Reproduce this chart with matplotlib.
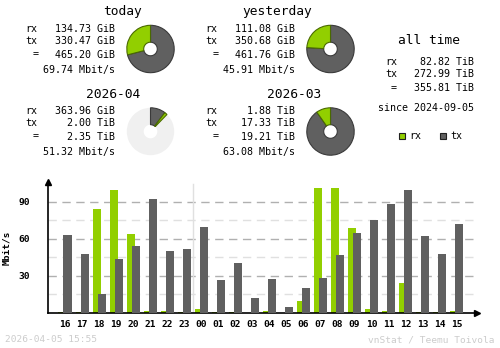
import numpy as np
import matplotlib
matplotlib.use("Agg")
import matplotlib.pyplot as plt
from matplotlib.patches import Wedge, Circle, Rectangle

# hourly traffic, Mbit/s
hours = ["16", "17", "18", "19", "20", "21", "22", "23", "00", "01", "02", "03",
         "04", "05", "06", "07", "08", "09", "10", "11", "12", "13", "14", "15"]
rx_rate = [1, 1, 84, 100, 64, 1.5, 1.5, 1, 3.5, 1, 1, 0,
           1.5, 0, 10, 101, 101, 69, 3.5, 2, 24.5, 1, 1, 1.5]
tx_rate = [63, 48, 15.7, 44, 54.5, 92.7, 50.5, 52, 70, 27, 40.8, 12.5,
           27.8, 5, 20.5, 28.6, 47.3, 65, 75, 88.7, 100, 62.7, 48, 72.4]

# summary boxes: title, rx, tx, total, rate, rx share, filled part
box_titles = ["today", "yesterday", "2026-04", "2026-03"]
box_rx = ["134.73 GiB", "111.08 GiB", "363.96 GiB", "1.88 TiB"]
box_tx = ["330.47 GiB", "350.68 GiB", "2.00 TiB", "17.33 TiB"]
box_tot = ["465.20 GiB", "461.76 GiB", "2.35 TiB", "19.21 TiB"]
box_rate = ["69.74 Mbit/s", "45.91 Mbit/s", "51.32 Mbit/s", "63.08 Mbit/s"]
box_rx_num = [134.73, 111.08, 363.96 / 1024, 1.88]
box_tot_num = [465.20, 461.76, 2.35, 19.21]
box_fill = [1.0, 1.0, 2.35 / 19.21, 1.0]

alltime = ["82.82 TiB", "272.99 TiB", "355.81 TiB"]
since = "since 2024-09-05"

RX = "#92cf00"
TX = "#606060"
MONO = "DejaVu Sans Mono"

fig = plt.figure(figsize=(5, 3.48), dpi=100)
bg = fig.add_axes([0, 0, 1, 1])
bg.set_xlim(0, 500)
bg.set_ylim(348, 0)
bg.axis("off")

# positions of the four boxes (pixels)
title_x = [122, 277, 113, 294]
val_right = [115, 295, 115, 295]
lab_x = [25, 205, 25, 205]
pie_c = [(150.5, 49), (330.5, 49), (150.5, 131.5), (330.5, 131.5)]
row0 = [12, 12, 94, 94]

for i in range(4):
    y0 = row0[i]
    bg.text(title_x[i], y0, box_titles[i], ha="center", va="center",
            family=MONO, fontsize=9.3)
    ys = [y0 + 17, y0 + 29.5, y0 + 42.5, y0 + 57.5]
    bg.text(lab_x[i], ys[0], "rx", va="center", family=MONO, fontsize=7.2)
    bg.text(lab_x[i], ys[1], "tx", va="center", family=MONO, fontsize=7.2)
    bg.text(lab_x[i] + 8, ys[2], "=", va="center", family=MONO, fontsize=7.2)
    for y, s in zip(ys, [box_rx[i], box_tx[i], box_tot[i], box_rate[i]]):
        bg.text(val_right[i], y, s, ha="right", va="center",
                family=MONO, fontsize=7.2)

    cx, cy = pie_c[i]
    r, rin = 23.7, 6.8
    f = box_fill[i]
    frx = box_rx_num[i] / box_tot_num[i]
    if f < 1:
        bg.add_patch(Wedge((cx, cy), r, 0, 360, width=r - rin,
                           facecolor="#f0f0f0", edgecolor="none"))
    a_tx = 360 * f * (1 - frx)
    a_all = 360 * f
    bg.add_patch(Wedge((cx, cy), r, 270, 270 + a_tx, width=r - rin,
                       facecolor=TX, edgecolor="#3a3a3a", lw=0.8))
    bg.add_patch(Wedge((cx, cy), r, 270 + a_tx, 270 + a_all, width=r - rin,
                       facecolor=RX, edgecolor="#4a6a00", lw=0.8))

# all time block
bg.text(429, 40, "all time", ha="center", va="center", family=MONO, fontsize=9.3)
for y, lab, v in zip([62, 74, 88], ["rx", "tx", " ="], alltime):
    bg.text(385, y, lab, va="center", family=MONO, fontsize=7.2)
    bg.text(474, y, v, ha="right", va="center", family=MONO, fontsize=7.2)
bg.text(474, 108, since, ha="right", va="center", family=MONO, fontsize=7.2)

bg.add_patch(Rectangle((398.5, 133), 6, 6, facecolor=RX, edgecolor="#202020", lw=0.8))
bg.text(409, 136, "rx", va="center", family=MONO, fontsize=7.2)
bg.add_patch(Rectangle((440, 133), 6, 6, facecolor=TX, edgecolor="#202020", lw=0.8))
bg.text(450, 136, "tx", va="center", family=MONO, fontsize=7.2)

bg.text(5, 340, "2026-04-05 15:55", va="center", family=MONO, fontsize=6.8,
        color="#cccccc")
bg.text(495, 340, "vnStat / Teemu Toivola", ha="right", va="center",
        family=MONO, fontsize=6.8, color="#cccccc")

# hourly bar chart
ax = fig.add_axes([48 / 500, 1 - 313 / 348, (477 - 48) / 500, (313 - 182) / 348])
ax.patch.set_alpha(0)
x = np.arange(len(hours))
ax.set_xlim(-0.998, 24.19)
ax.set_ylim(0, 106.2)

for v in [15, 45, 75]:
    ax.axhline(v, xmax=0.99, color="#e0e0e0", lw=1, ls=(0, (6, 4)), zorder=0)
for v in [30, 60, 90]:
    ax.axhline(v, xmax=0.99, color="#b0b0b0", lw=1, ls=(0, (6, 4)), zorder=0)
ax.axvline(7.5, ymax=0.985, color="#e0e0e0", lw=1, zorder=0)

w = 0.47
ax.bar(x - 0.147, rx_rate, width=w, color=RX, zorder=2)
ax.bar(x + 0.147, tx_rate, width=w, color=TX, zorder=3)

for s in ["top", "right"]:
    ax.spines[s].set_visible(False)
ax.spines["left"].set_linewidth(1.2)
ax.spines["bottom"].set_linewidth(1.2)
ax.plot(1, 0, ">k", ms=4, transform=ax.transAxes, clip_on=False)
ax.plot(0, 1, "^k", ms=4, transform=ax.transAxes, clip_on=False)

ax.set_xticks(x)
ax.set_xticklabels(hours, family=MONO, fontsize=6.8, fontweight="bold")
ax.set_yticks([30, 60, 90])
ax.set_yticklabels(["30", "60", "90"], family=MONO, fontsize=6.8, fontweight="bold")
ax.tick_params(axis="x", length=0, pad=5)
ax.tick_params(axis="y", length=0, pad=13)
ax.set_ylabel("Mbit/s", family=MONO, fontsize=6.8, fontweight="bold", labelpad=5)

fig.savefig("out.png", dpi=100)
